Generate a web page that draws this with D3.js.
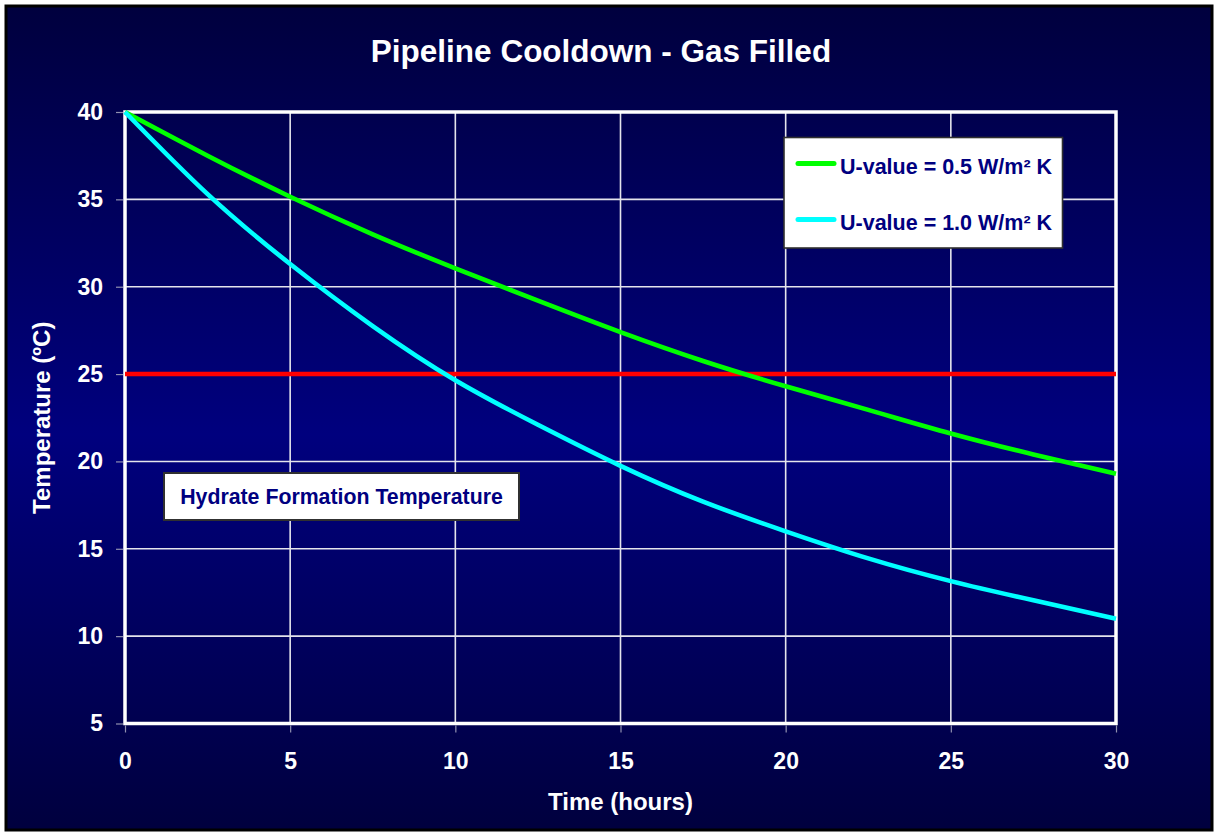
<!DOCTYPE html>
<html>
<head>
<meta charset="utf-8">
<script src="https://cdn.jsdelivr.net/npm/d3@7"></script>
<style>
  html, body { margin: 0; padding: 0; background: #ffffff; }
  svg { display: block; }
  text { font-family: "Liberation Sans", Arial, sans-serif; font-weight: bold; }
</style>
</head>
<body>
<script>
// Pipeline cooldown curves (gas filled) for two overall heat-transfer coefficients
const hours = [0, 2.5, 5, 7.5, 10, 12.5, 15, 17.5, 20, 22.5, 25, 27.5, 30];
const tempU05 = [40, 37.5, 35.15, 33.0, 31.05, 29.2, 27.4, 25.75, 24.3, 22.95, 21.6, 20.4, 19.3];
const tempU10 = [40, 35.3, 31.3, 27.75, 24.65, 22.1, 19.75, 17.7, 16.0, 14.45, 13.15, 12.05, 11.0];
const hydrateTemp = 25;

const xTicks = [0, 5, 10, 15, 20, 25, 30];
const yTicks = [5, 10, 15, 20, 25, 30, 35, 40];

const seriesNames = ["U-value = 0.5 W/m\u00B2 K", "U-value = 1.0 W/m\u00B2 K"];
const seriesColors = ["#00ff00", "#00ffff"];

const W = 1214, H = 833;
const plot = { left: 125, top: 112, right: 1116, bottom: 723.5 };

const svg = d3.select("body").append("svg")
  .attr("width", W).attr("height", H);

// Background gradient: dark navy at top and bottom, brighter in the middle
const defs = svg.append("defs");
const grad = defs.append("linearGradient")
  .attr("id", "bg").attr("x1", 0).attr("y1", 0).attr("x2", 0).attr("y2", 1);
grad.append("stop").attr("offset", "0%").attr("stop-color", "#00003e");
grad.append("stop").attr("offset", "52%").attr("stop-color", "#00007e");
grad.append("stop").attr("offset", "100%").attr("stop-color", "#00003e");

svg.append("rect")
  .attr("x", 6).attr("y", 6).attr("width", 1206).attr("height", 824)
  .attr("fill", "url(#bg)")
  .attr("stroke", "#000000").attr("stroke-width", 3);

const x = d3.scaleLinear().domain([0, 30]).range([plot.left, plot.right]);
const y = d3.scaleLinear().domain([5, 40]).range([plot.bottom, plot.top]);

// Gridlines
const grid = svg.append("g");
grid.selectAll(".vg").data(xTicks).join("line")
  .attr("x1", d => x(d)).attr("x2", d => x(d))
  .attr("y1", plot.top).attr("y2", plot.bottom)
  .attr("stroke", "#e4e4ec").attr("stroke-width", 1.6);
grid.selectAll(".hg").data(yTicks).join("line")
  .attr("x1", plot.left).attr("x2", plot.right)
  .attr("y1", d => y(d)).attr("y2", d => y(d))
  .attr("stroke", "#e4e4ec").attr("stroke-width", 1.6);

// Axes (tick marks and labels)
const xAxis = svg.append("g")
  .attr("transform", `translate(0,${plot.bottom + 2})`)
  .call(d3.axisBottom(x).tickValues(xTicks).tickSize(7).tickPadding(20).tickFormat(d3.format("d")));
const yAxis = svg.append("g")
  .attr("transform", `translate(${plot.left - 2},0)`)
  .call(d3.axisLeft(y).tickValues(yTicks).tickSize(7).tickPadding(13).tickFormat(d3.format("d")));
[xAxis, yAxis].forEach(a => {
  a.select(".domain").remove();
  a.selectAll(".tick line").attr("stroke", "#9090b0").attr("stroke-width", 1.2);
  a.selectAll(".tick text")
    .attr("fill", "#ffffff")
    .style("font-size", "23px")
    .style("font-weight", "bold")
    .style("font-family", "'Liberation Sans', Arial, sans-serif");
});
xAxis.selectAll(".tick text").attr("dy", "0.71em");

// Plot border
svg.append("rect")
  .attr("x", plot.left).attr("y", plot.top)
  .attr("width", plot.right - plot.left).attr("height", plot.bottom - plot.top)
  .attr("fill", "none").attr("stroke", "#ffffff").attr("stroke-width", 3.5);

// Hydrate formation temperature line
svg.append("line")
  .attr("x1", x(0)).attr("x2", x(30))
  .attr("y1", y(hydrateTemp)).attr("y2", y(hydrateTemp))
  .attr("stroke", "#ff0000").attr("stroke-width", 4.5);

// Cooldown curves
const line = d3.line()
  .x((d, i) => x(hours[i]))
  .y(d => y(d))
  .curve(d3.curveNatural);

[tempU05, tempU10].forEach((s, k) => {
  svg.append("path")
    .attr("d", line(s))
    .attr("fill", "none")
    .attr("stroke", seriesColors[k])
    .attr("stroke-width", 4.6)
    .attr("stroke-linejoin", "round");
});

// Title
svg.append("text")
  .attr("x", 601).attr("y", 62)
  .attr("text-anchor", "middle")
  .attr("fill", "#ffffff")
  .style("font-size", "31.5px")
  .text("Pipeline Cooldown - Gas Filled");

// Axis titles
svg.append("text")
  .attr("x", (plot.left + plot.right) / 2).attr("y", 810)
  .attr("text-anchor", "middle")
  .attr("fill", "#ffffff")
  .style("font-size", "24px")
  .text("Time (hours)");

svg.append("text")
  .attr("transform", `translate(50,${(plot.top + plot.bottom) / 2}) rotate(-90)`)
  .attr("text-anchor", "middle")
  .attr("fill", "#ffffff")
  .style("font-size", "24px")
  .text("Temperature (\u00BAC)");

// Legend
const legend = svg.append("g");
legend.append("rect")
  .attr("x", 784).attr("y", 137.5).attr("width", 278.5).attr("height", 110.5)
  .attr("fill", "#ffffff").attr("stroke", "#303030").attr("stroke-width", 1.6);
const rowY = [163.5, 219.5];
seriesNames.forEach((name, k) => {
  legend.append("line")
    .attr("x1", 798).attr("x2", 834)
    .attr("y1", rowY[k]).attr("y2", rowY[k])
    .attr("stroke", seriesColors[k]).attr("stroke-width", 5)
    .attr("stroke-linecap", "round");
  legend.append("text")
    .attr("x", 840).attr("y", rowY[k] + 10)
    .attr("fill", "#000080")
    .style("font-size", "21.5px")
    .text(name);
});

// Hydrate label
const hl = svg.append("g");
hl.append("rect")
  .attr("x", 164).attr("y", 473).attr("width", 355).attr("height", 47)
  .attr("fill", "#ffffff").attr("stroke", "#303030").attr("stroke-width", 2);
hl.append("text")
  .attr("x", 341.5).attr("y", 504)
  .attr("text-anchor", "middle")
  .attr("fill", "#000080")
  .style("font-size", "21.3px")
  .text("Hydrate Formation Temperature");
</script>
</body>
</html>
